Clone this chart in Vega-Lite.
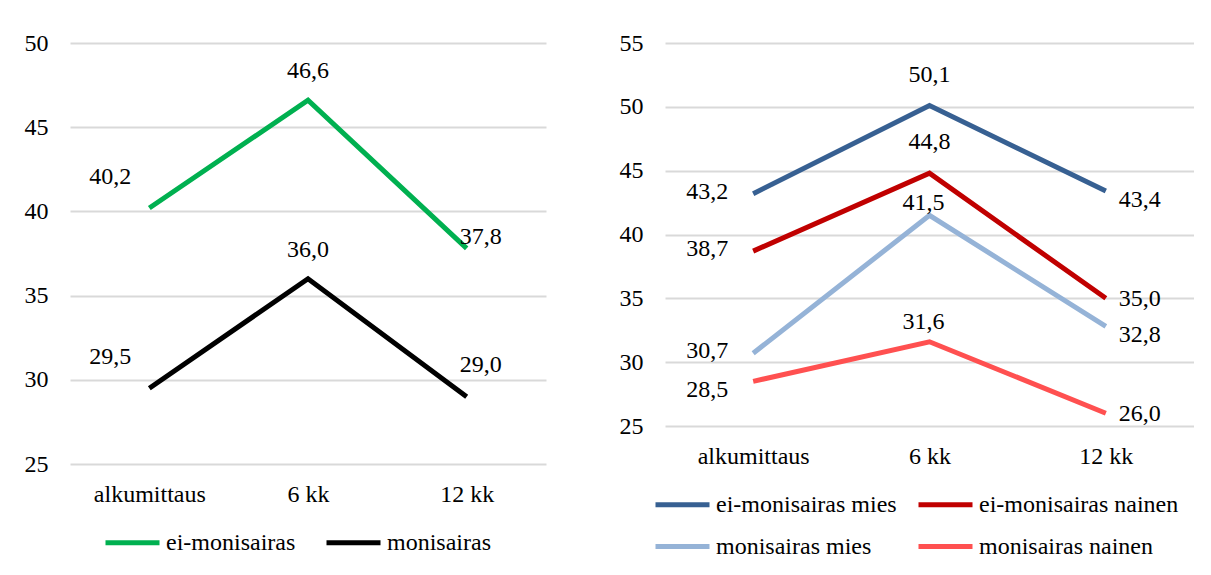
{
  "$schema": "https://vega.github.io/schema/vega-lite/v6.json",
  "padding": {"left": 24, "top": 31, "right": 0, "bottom": 0},
  "background": "white",
  "datasets": {
    "vasen": [
      {"aika": "alkumittaus", "ryhma": "ei-monisairas", "arvo": 40.2},
      {"aika": "6 kk", "ryhma": "ei-monisairas", "arvo": 46.6},
      {"aika": "12 kk", "ryhma": "ei-monisairas", "arvo": 37.8},
      {"aika": "alkumittaus", "ryhma": "monisairas", "arvo": 29.5},
      {"aika": "6 kk", "ryhma": "monisairas", "arvo": 36.0},
      {"aika": "12 kk", "ryhma": "monisairas", "arvo": 29.0}
    ],
    "oikea": [
      {"aika": "alkumittaus", "ryhma": "ei-monisairas mies", "arvo": 43.2},
      {"aika": "6 kk", "ryhma": "ei-monisairas mies", "arvo": 50.1},
      {"aika": "12 kk", "ryhma": "ei-monisairas mies", "arvo": 43.4},
      {"aika": "alkumittaus", "ryhma": "ei-monisairas nainen", "arvo": 38.7},
      {"aika": "6 kk", "ryhma": "ei-monisairas nainen", "arvo": 44.8},
      {"aika": "12 kk", "ryhma": "ei-monisairas nainen", "arvo": 35.0},
      {"aika": "alkumittaus", "ryhma": "monisairas mies", "arvo": 30.7},
      {"aika": "6 kk", "ryhma": "monisairas mies", "arvo": 41.5},
      {"aika": "12 kk", "ryhma": "monisairas mies", "arvo": 32.8},
      {"aika": "alkumittaus", "ryhma": "monisairas nainen", "arvo": 28.5},
      {"aika": "6 kk", "ryhma": "monisairas nainen", "arvo": 31.6},
      {"aika": "12 kk", "ryhma": "monisairas nainen", "arvo": 26.0}
    ]
  },
  "hconcat": [
    {
      "width": 476,
      "height": 421,
      "data": {"name": "vasen"},
      "encoding": {
        "x": {"field": "aika", "type": "nominal", "sort": ["alkumittaus", "6 kk", "12 kk"], "scale": {"type": "point", "padding": 0.5}, "axis": {"title": null, "labelAngle": 0, "domain": false, "ticks": false, "grid": false, "labelPadding": 18, "labelFont": "Liberation Serif", "labelFontSize": 24, "labelColor": "#000000"}},
        "y": {"field": "arvo", "type": "quantitative", "scale": {"domain": [25, 50], "nice": false, "zero": false}, "axis": {"title": null, "values": [25, 30, 35, 40, 45, 50], "domain": false, "ticks": false, "labelPadding": 22, "format": "d", "labelFont": "Liberation Serif", "labelFontSize": 24, "labelColor": "#000000", "gridColor": "#d9d9d9", "gridWidth": 2}}
      },
      "layer": [
        {
          "mark": {"type": "line", "strokeWidth": 5, "strokeJoin": "miter"},
          "encoding": {
            "color": {"field": "ryhma", "type": "nominal", "sort": ["ei-monisairas", "monisairas"], "scale": {"domain": ["ei-monisairas", "monisairas"], "range": ["#00b050", "#000000"]}, "legend": {"orient": "none", "legendX": 33, "legendY": 470, "direction": "horizontal", "columnPadding": 20, "labelFont": "Liberation Serif", "labelFontSize": 24, "labelColor": "#000000"}}
          }
        },
        {
          "transform": [{"filter": "datum.aika === 'alkumittaus'"}],
          "mark": {"type": "text", "dx": -39, "dy": -31, "font": "Liberation Serif", "fontSize": 24, "color": "#000000"},
          "encoding": {"text": {"field": "arvo", "type": "quantitative", "format": ".1f"}}
        },
        {
          "transform": [{"filter": "datum.aika === '6 kk'"}],
          "mark": {"type": "text", "dy": -29, "font": "Liberation Serif", "fontSize": 24, "color": "#000000"},
          "encoding": {"text": {"field": "arvo", "type": "quantitative", "format": ".1f"}}
        },
        {
          "transform": [{"filter": "datum.aika === '12 kk' && datum.ryhma === 'ei-monisairas'"}],
          "mark": {"type": "text", "dx": 14, "dy": -11, "font": "Liberation Serif", "fontSize": 24, "color": "#000000"},
          "encoding": {"text": {"field": "arvo", "type": "quantitative", "format": ".1f"}}
        },
        {
          "transform": [{"filter": "datum.aika === '12 kk' && datum.ryhma === 'monisairas'"}],
          "mark": {"type": "text", "dx": 14, "dy": -32, "font": "Liberation Serif", "fontSize": 24, "color": "#000000"},
          "encoding": {"text": {"field": "arvo", "type": "quantitative", "format": ".1f"}}
        }
      ]
    },
    {
      "width": 529,
      "height": 383,
      "data": {"name": "oikea"},
      "encoding": {
        "x": {"field": "aika", "type": "nominal", "sort": ["alkumittaus", "6 kk", "12 kk"], "scale": {"type": "point", "padding": 0.5}, "axis": {"title": null, "labelAngle": 0, "domain": false, "ticks": false, "grid": false, "labelPadding": 18, "labelFont": "Liberation Serif", "labelFontSize": 24, "labelColor": "#000000"}},
        "y": {"field": "arvo", "type": "quantitative", "scale": {"domain": [25, 55], "nice": false, "zero": false}, "axis": {"title": null, "values": [25, 30, 35, 40, 45, 50, 55], "domain": false, "ticks": false, "labelPadding": 22, "format": "d", "labelFont": "Liberation Serif", "labelFontSize": 24, "labelColor": "#000000", "gridColor": "#d9d9d9", "gridWidth": 2}}
      },
      "layer": [
        {
          "mark": {"type": "line", "strokeWidth": 5, "strokeJoin": "miter"},
          "encoding": {
            "color": {"field": "ryhma", "type": "nominal", "sort": ["ei-monisairas mies", "ei-monisairas nainen", "monisairas mies", "monisairas nainen"], "scale": {"domain": ["ei-monisairas mies", "ei-monisairas nainen", "monisairas mies", "monisairas nainen"], "range": ["#376092", "#c00000", "#95b3d7", "#ff5050"]}, "legend": {"orient": "none", "legendX": -12, "legendY": 432, "direction": "horizontal", "columns": 2, "columnPadding": 11, "rowPadding": -11, "labelFont": "Liberation Serif", "labelFontSize": 24, "labelColor": "#000000"}}
          }
        },
        {
          "transform": [{"filter": "datum.aika === 'alkumittaus' && datum.ryhma !== 'monisairas nainen'"}],
          "mark": {"type": "text", "align": "right", "dx": -25, "dy": -2, "font": "Liberation Serif", "fontSize": 24, "color": "#000000"},
          "encoding": {"text": {"field": "arvo", "type": "quantitative", "format": ".1f"}}
        },
        {
          "transform": [{"filter": "datum.aika === 'alkumittaus' && datum.ryhma === 'monisairas nainen'"}],
          "mark": {"type": "text", "align": "right", "dx": -25, "dy": 9, "font": "Liberation Serif", "fontSize": 24, "color": "#000000"},
          "encoding": {"text": {"field": "arvo", "type": "quantitative", "format": ".1f"}}
        },
        {
          "transform": [{"filter": "datum.aika === '6 kk' && (datum.ryhma === 'ei-monisairas mies' || datum.ryhma === 'ei-monisairas nainen')"}],
          "mark": {"type": "text", "dy": -31, "font": "Liberation Serif", "fontSize": 24, "color": "#000000"},
          "encoding": {"text": {"field": "arvo", "type": "quantitative", "format": ".1f"}}
        },
        {
          "transform": [{"filter": "datum.aika === '6 kk' && datum.ryhma === 'monisairas mies'"}],
          "mark": {"type": "text", "dx": -6, "dy": -12, "font": "Liberation Serif", "fontSize": 24, "color": "#000000"},
          "encoding": {"text": {"field": "arvo", "type": "quantitative", "format": ".1f"}}
        },
        {
          "transform": [{"filter": "datum.aika === '6 kk' && datum.ryhma === 'monisairas nainen'"}],
          "mark": {"type": "text", "dx": -6, "dy": -20, "font": "Liberation Serif", "fontSize": 24, "color": "#000000"},
          "encoding": {"text": {"field": "arvo", "type": "quantitative", "format": ".1f"}}
        },
        {
          "transform": [{"filter": "datum.aika === '12 kk' && (datum.ryhma === 'ei-monisairas mies' || datum.ryhma === 'monisairas mies')"}],
          "mark": {"type": "text", "align": "left", "dx": 13, "dy": 9, "font": "Liberation Serif", "fontSize": 24, "color": "#000000"},
          "encoding": {"text": {"field": "arvo", "type": "quantitative", "format": ".1f"}}
        },
        {
          "transform": [{"filter": "datum.aika === '12 kk' && (datum.ryhma === 'ei-monisairas nainen' || datum.ryhma === 'monisairas nainen')"}],
          "mark": {"type": "text", "align": "left", "dx": 13, "dy": 1, "font": "Liberation Serif", "fontSize": 24, "color": "#000000"},
          "encoding": {"text": {"field": "arvo", "type": "quantitative", "format": ".1f"}}
        }
      ]
    }
  ],
  "spacing": 73,
  "resolve": {"scale": {"color": "independent", "x": "independent", "y": "independent"}, "legend": {"color": "independent"}},
  "config": {
    "locale": {"number": {"decimal": ",", "thousands": " ", "grouping": [3], "currency": ["", " €"]}},
    "view": {"stroke": null},
    "legend": {"title": null, "symbolType": "stroke", "symbolStrokeWidth": 5, "symbolSize": 2916, "labelOffset": 4, "padding": 0, "labelLimit": 400}
  }
}
